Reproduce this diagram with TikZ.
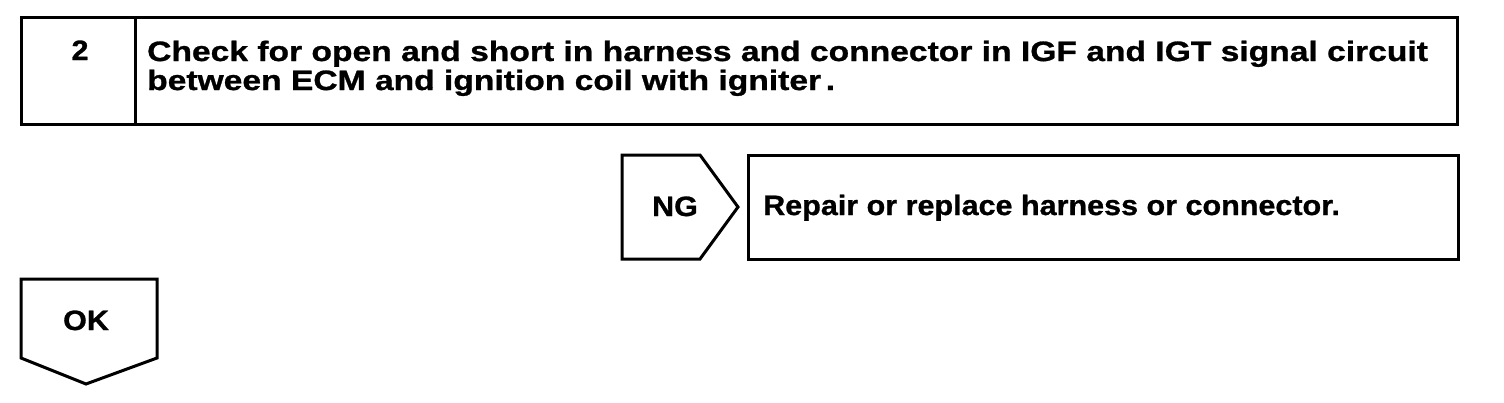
\documentclass[tikz,border=0pt]{standalone}
\usepackage{fontspec}
\setmainfont{Liberation Sans}
\newfontfamily\titlefont[FakeStretch=1.2,FakeBold=1]{Liberation Sans}
\newfontfamily\labelfont[FakeStretch=1.09,FakeBold=1]{Liberation Sans}
\begin{document}
\begin{tikzpicture}[x=1pt,y=-1pt,
  box/.style={draw=black,line width=3pt,line join=miter},
  lbl/.style={font=\labelfont\fontsize{28}{28}\selectfont\bfseries,inner sep=0pt},
  ttl/.style={font=\titlefont\fontsize{28}{28}\selectfont\bfseries,inner sep=0pt,anchor=base west}]
\useasboundingbox (0,0) rectangle (1504,402);
% top step box
\draw[box] (21,17) rectangle (1457,124);
\draw[box] (135,17) -- (135,124);
\node[lbl,anchor=base] (num) at (80,60) {2};
\node[ttl] (title1) at (147,61)
  {Check for open and short in harness and connector in IGF and IGT signal circuit};
\node[ttl] (title2) at (147,90)
  {between ECM and ignition coil with igniter\,.};
% NG
\draw[box] (622,155) -- (700,155) -- (738,207) -- (700,259) -- (622,259) -- cycle;
\node[lbl,anchor=base] (ng) at (675,216) {NG};
\draw[box] (748,155) rectangle (1458,259);
\node[lbl,anchor=base west] (rep) at (763,215) {Repair or replace harness or connector.};
% OK
\draw[box] (21,279) -- (157,279) -- (157,358) -- (86,384) -- (21,358) -- cycle;
\node[lbl,anchor=base] (ok) at (86,330) {OK};
\end{tikzpicture}
\end{document}
